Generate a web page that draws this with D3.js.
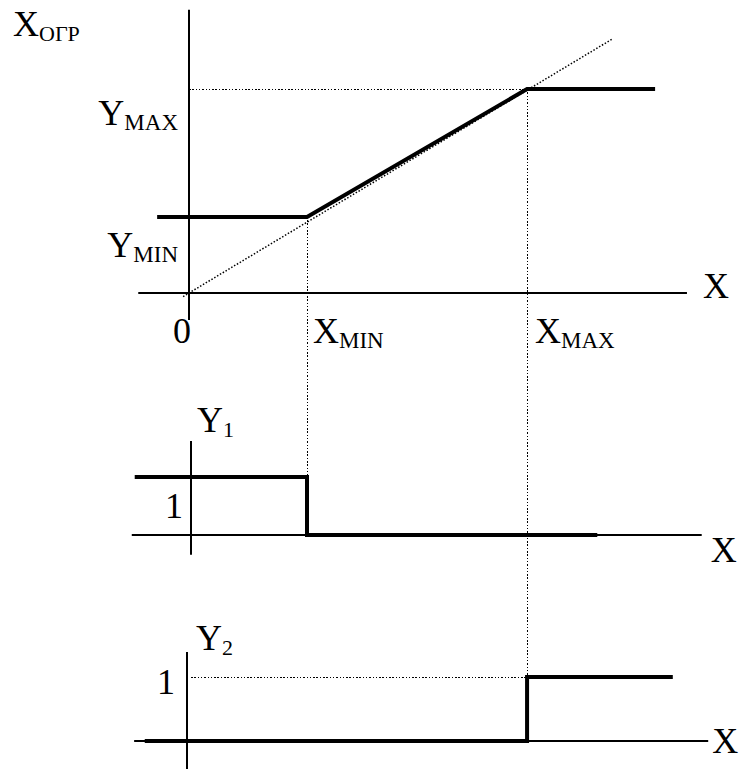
<!DOCTYPE html>
<html>
<head>
<meta charset="utf-8">
<script src="https://cdn.jsdelivr.net/npm/d3@7"></script>
<style>
  body { margin: 0; background: #fff; }
  text { font-family: "Liberation Serif", "Times New Roman", serif; fill: #000; }
</style>
</head>
<body>
<svg id="chart" width="739" height="769"></svg>
<script>
// Characteristic values (shared x units, one y unit per panel)
let xMin = 2.0, xMax = 5.73;
let yMin = 2.15, yMax = 5.76;

// Limiter output X_огр(X): thick polyline
let limiterX = [-0.54, xMin, xMax, 7.9];
let limiterY = [yMin, yMin, yMax, yMax];
// Dotted identity line
let diagX = [-0.1, 7.17];

// Y1 step (1 below xMin, 0 above)
let y1X = [-0.92, xMin, xMin, 6.92];
let y1V = [1, 1, 0, 0];
// Y2 step (0 below xMax, 1 above)
let y2X = [-0.75, xMax, xMax, 8.2];
let y2V = [0, 0, 1, 1];

// Axis extents
let topAxisX = [-0.86, 8.44], topAxisY = [-0.76, 8];
let y1AxisX = [-0.97, 8.69], y1AxisY = [-0.34, 1.62];
let y2AxisX = [-0.93, 8.8], y2AxisY = [-0.44, 1.39];

let svg = d3.select('#chart');

// Setup scales.
let x = d3.scaleLinear().domain([-1, 9]).range([130, 720]);
let yTop = d3.scaleLinear().domain([0, 8]).range([293, 9.8]);
let y1 = d3.scaleLinear().domain([0, 1]).range([535, 477]);
let y2 = d3.scaleLinear().domain([0, 1]).range([741, 677]);

let thin = 2, thick = 4, dotW = 1.5, dots = '1.5,1.8';

function seg(x1, y1_, x2, y2_, w, dash) {
    let l = svg.append('line')
        .attr('x1', x1).attr('y1', y1_)
        .attr('x2', x2).attr('y2', y2_)
        .attr('stroke', '#000')
        .attr('stroke-width', w)
        .style('stroke-dasharray', dash || null);
    // keep straight dotted guides crisp
    if (dash && (x1 === x2 || y1_ === y2_)) {
        l.attr('shape-rendering', 'crispEdges').attr('stroke-width', 1);
    }
}

function poly(xs, ys, xScale, yScale) {
    let pts = xs.map((d, i) => [xScale(d), yScale(ys[i])]);
    svg.append('path')
        .attr('d', d3.line()(pts))
        .attr('fill', 'none')
        .attr('stroke', '#000')
        .attr('stroke-width', thick)
        .attr('stroke-linejoin', 'miter');
}

// label with optional subscript
function label(px, py, main, sub, anchor, subSize) {
    let t = svg.append('text')
        .attr('x', px).attr('y', py)
        .attr('text-anchor', anchor || 'start')
        .style('font-size', '36px');
    t.append('tspan').text(main);
    if (sub) {
        t.append('tspan')
            .attr('dy', 5)
            .style('font-size', (subSize || 23) + 'px')
            .text(sub);
    }
}

// Dotted guides.
seg(Math.round(x(0)), Math.round(yTop(yMax)) + 0.5, Math.round(x(xMax)), Math.round(yTop(yMax)) + 0.5, dotW, dots);
seg(x(diagX[0]), yTop(diagX[0]), x(diagX[1]), yTop(diagX[1]), dotW, dots);
seg(Math.round(x(xMin)) + 0.5, yTop(yMin), Math.round(x(xMin)) + 0.5, y1(1), dotW, dots);
seg(Math.round(x(xMax)) + 0.5, yTop(yMax), Math.round(x(xMax)) + 0.5, y2(0), dotW, dots);
seg(Math.round(x(0)) + 2, y2(1) + 0.5, Math.round(x(xMax)), y2(1) + 0.5, dotW, dots);

// Axes.
seg(x(topAxisX[0]), yTop(0), x(topAxisX[1]), yTop(0), thin);
seg(x(0), yTop(topAxisY[0]), x(0), yTop(topAxisY[1]), thin);
seg(x(y1AxisX[0]), y1(0), x(y1AxisX[1]), y1(0), thin);
seg(x(0) + 2, y1(y1AxisY[0]), x(0) + 2, y1(y1AxisY[1]), thin);
seg(x(y2AxisX[0]), y2(0), x(y2AxisX[1]), y2(0), thin);
seg(x(0) - 2, y2(y2AxisY[0]), x(0) - 2, y2(y2AxisY[1]), thin);

// Curves.
poly(limiterX, limiterY, x, yTop);
poly(y1X, y1V, x, y1);
poly(y2X, y2V, x, y2);

// Labels, top panel.
label(13, 36, 'X', 'ОГР', 'start', 22);
label(x(0) - 11, yTop(yMax) + 36, 'Y', 'MAX', 'end');
label(x(0) - 11, yTop(yMin) + 40, 'Y', 'MIN', 'end');
label(x(0) - 7, yTop(0) + 50, '0', null, 'middle');
label(x(xMin) + 6, yTop(0) + 50, 'X', 'MIN');
label(x(xMax) + 8, yTop(0) + 50, 'X', 'MAX');
label(x(topAxisX[1]) + 16, yTop(0) + 5, 'X');

// Labels, Y1 panel.
label(x(0) + 8, y1(y1AxisY[1]) - 9, 'Y', '1', 'start', 22);
label(x(0) - 24, y1(0) - 17, '1');
label(x(y1AxisX[1]) + 9, y1(0) + 27, 'X');

// Labels, Y2 panel.
label(x(0) + 7, y2(y2AxisY[1]) - 2, 'Y', '2', 'start', 22);
label(x(0) - 32, y2(1) + 17, '1');
label(x(y2AxisX[1]) + 4, y2(0) + 12, 'X');
</script>
</body>
</html>
